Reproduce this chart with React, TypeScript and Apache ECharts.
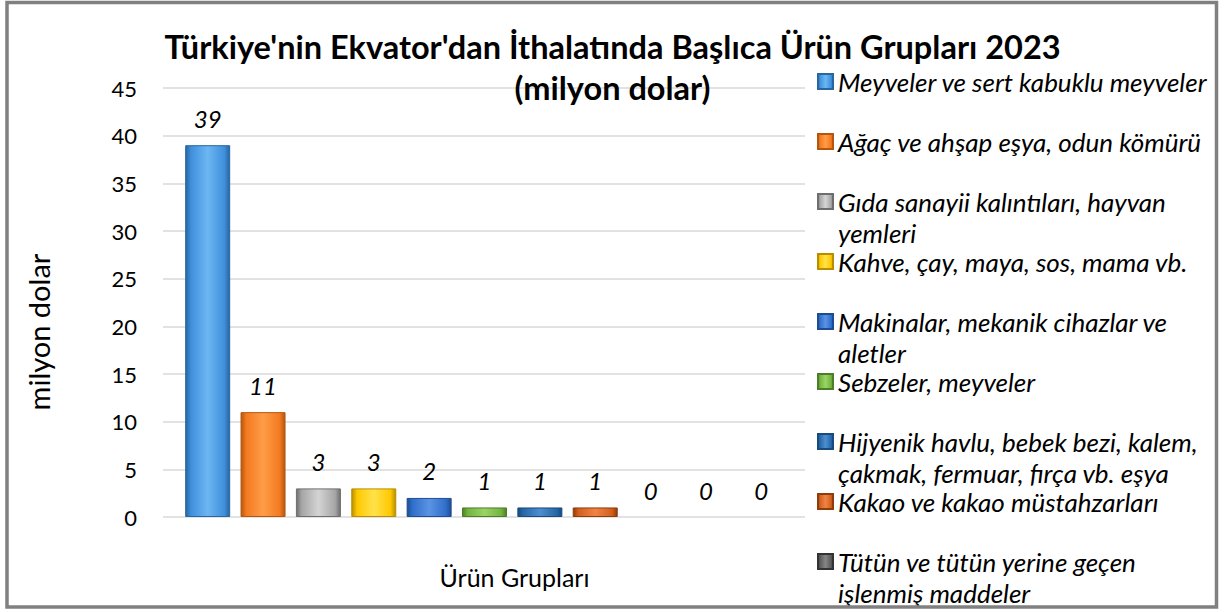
import React, { useEffect, useRef } from 'react';
import * as echarts from 'echarts';

const titleLine1 = "Türkiye'nin Ekvator'dan İthalatında Başlıca Ürün Grupları 2023";
const titleLine2 = '(milyon dolar)';
const yAxisTitle = 'milyon dolar';
const xAxisTitle = 'Ürün Grupları';

const categories = [
  'Meyveler ve sert kabuklu meyveler',
  'Ağaç ve ahşap eşya, odun kömürü',
  'Gıda sanayii kalıntıları, hayvan yemleri',
  'Kahve, çay, maya, sos, mama vb.',
  'Makinalar, mekanik cihazlar ve aletler',
  'Sebzeler, meyveler',
  'Hijyenik havlu, bebek bezi, kalem, çakmak, fermuar, fırça vb. eşya',
  'Kakao ve kakao müstahzarları',
  'Tütün ve tütün yerine geçen işlenmiş maddeler',
  'Diğer ürün grubu 10',
  'Diğer ürün grubu 11',
];
const values = [39, 11, 3, 3, 2, 1, 1, 1, 0, 0, 0];

const legendLines: string[][] = [
  ['Meyveler ve sert kabuklu meyveler'],
  ['Ağaç ve ahşap eşya, odun kömürü'],
  ['Gıda sanayii kalıntıları, hayvan', 'yemleri'],
  ['Kahve, çay, maya, sos, mama vb.'],
  ['Makinalar, mekanik cihazlar ve', 'aletler'],
  ['Sebzeler, meyveler'],
  ['Hijyenik havlu, bebek bezi, kalem,', 'çakmak, fermuar, fırça vb. eşya'],
  ['Kakao ve kakao müstahzarları'],
  ['Tütün ve tütün yerine geçen', 'işlenmiş maddeler'],
  ['Diğer ürün grubu 10'],
  ['Diğer ürün grubu 11'],
];
const visibleLegendCount = 9;

const baseColors = ['#3F8FDC', '#F47A20', '#A6A6A6', '#FFC800', '#2F6FCA', '#72B43F', '#2767A8', '#D2601C', '#5A5A5A', '#9E7A00', '#3E7A2A'];
const lightColors = ['#6CB6F2', '#FF9C48', '#D4D4D4', '#FFE24A', '#5C93E4', '#9AD466', '#4C8ECE', '#F08446', '#858585', '#C9A020', '#5E9E46'];
const darkColors = ['#28669F', '#B4560E', '#6E6E6E', '#B88E00', '#1E4C92', '#4B7E26', '#184A7C', '#8E3C0C', '#333333', '#6C5400', '#28541A'];

const yMin = 0;
const yMax = 45;
const yInterval = 5;

const FONT = 'Lato, "Open Sans", sans-serif';

export default function App() {
  const ref = useRef<HTMLDivElement>(null);
  useEffect(() => {
    document.body.style.margin = '0';
    const chart = echarts.init(ref.current!, null, { renderer: 'svg' });
    const mkGrad = (i: number) =>
      new echarts.graphic.LinearGradient(0, 0, 1, 0, [
        { offset: 0, color: darkColors[i] },
        { offset: 0.12, color: baseColors[i] },
        { offset: 0.5, color: lightColors[i] },
        { offset: 0.88, color: baseColors[i] },
        { offset: 1, color: darkColors[i] },
      ]);
    const series = categories.map((name, i) => ({
      type: 'bar',
      name,
      xAxisIndex: 1,
      yAxisIndex: 1,
      barWidth: 45,
      barGap: '-100%',
      data: values.map((v, j) =>
        j === i ? { value: v, itemStyle: v === 0 ? { borderWidth: 0 } : {} } : null
      ),
      itemStyle: { color: mkGrad(i), borderColor: darkColors[i], borderWidth: 1 },
      label: {
        show: true,
        position: 'top',
        distance: 15,
        fontSize: 24,
        fontStyle: 'italic',
        color: '#000',
        fontFamily: FONT,
      },
    }));
    const option: any = {
      animation: false,
      backgroundColor: '#fff',
      title: {
        text: titleLine1,
        subtext: titleLine2,
        left: 'center',
        top: 25,
        itemGap: 8,
        textStyle: { fontSize: 32.5, fontWeight: 'bold', color: '#000', fontFamily: FONT },
        subtextStyle: { fontSize: 32.5, fontWeight: 'bold', color: '#000', fontFamily: FONT },
      },
      grid: [
        { left: 163, width: 642, top: 88, height: 429 },
        { left: 180, width: 609, top: 88, height: 429 },
      ],
      xAxis: [
        { type: 'category', gridIndex: 0, data: categories, show: false },
        {
          type: 'category',
          gridIndex: 1,
          data: categories,
          axisLine: { show: false },
          axisTick: { show: false },
          axisLabel: { show: false },
          name: xAxisTitle,
          nameLocation: 'middle',
          nameGap: 47,
          nameTextStyle: { fontSize: 25, color: '#000', fontFamily: FONT, padding: [0, 0, 0, 60] },
        },
      ],
      yAxis: [
        {
          type: 'value',
          gridIndex: 0,
          min: yMin,
          max: yMax,
          interval: yInterval,
          axisLine: { show: false },
          axisTick: { show: false },
          axisLabel: { fontSize: 22, color: '#000', margin: 26, fontFamily: FONT },
          splitLine: { lineStyle: { color: '#D9D9D9', width: 1.5 } },
        },
        {
          type: 'value',
          gridIndex: 1,
          min: yMin,
          max: yMax,
          interval: yInterval,
          show: false,
          splitLine: { show: false },
        },
      ],
      legend: {
        data: categories.slice(0, visibleLegendCount),
        orient: 'vertical',
        left: 817,
        top: 35,
        height: 600,
        padding: 0,
        itemWidth: 15,
        itemHeight: 15,
        itemGap: -33,
        icon: 'rect',
        selectedMode: false,
        formatter: (name: string) => {
          const lines = legendLines[categories.indexOf(name)];
          return lines.length === 1 ? ' \n' + lines[0] + '\n ' : ' \n' + lines[0] + '\n' + lines[1];
        },
        textStyle: { fontSize: 26, fontStyle: 'italic', lineHeight: 31, color: '#000', fontFamily: FONT },
      },
      graphic: [
        {
          type: 'text',
          x: 38,
          y: 332,
          rotation: Math.PI / 2,
          style: { text: yAxisTitle, fontSize: 29, fill: '#000', fontFamily: FONT, align: 'center', verticalAlign: 'middle' },
        },
        {
          type: 'rect',
          shape: { x: 7, y: 2.5, width: 1209.5, height: 604.5 },
          style: { fill: 'none', stroke: '#808080', lineWidth: 3.5 },
          z: 100,
        },
      ],
      series,
    };
    chart.setOption(option);
    return () => chart.dispose();
  }, []);
  return <div ref={ref} style={{ width: 1225, height: 612, position: 'absolute', left: 0, top: 0 }} />;
}
